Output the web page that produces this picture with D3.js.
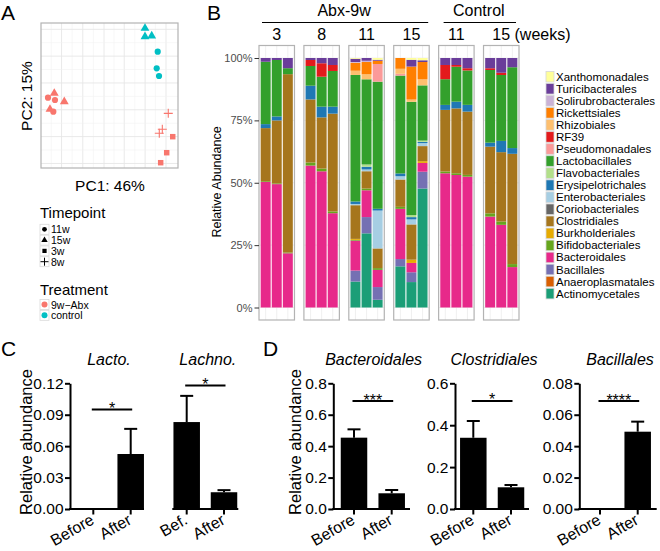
<!DOCTYPE html>
<html><head><meta charset="utf-8">
<script src="https://cdn.jsdelivr.net/npm/d3@7"></script>
<style>
body{margin:0;background:#fff}
svg{display:block;font-family:"Liberation Sans",Arial,Helvetica,sans-serif}
</style>
</head><body>
<svg id="chart" width="660" height="551"></svg>
<script>
// ================= DATA =================
// Panel A – PCA
const pcaTreatment = ["control","control","control","control","control","control",
  "9w−Abx","9w−Abx","9w−Abx","9w−Abx","9w−Abx","9w−Abx","9w−Abx","9w−Abx","9w−Abx","9w−Abx","9w−Abx","9w−Abx"];
const pcaTimepoint = ["15w","15w","15w","11w","11w","11w","15w","15w","15w","11w","11w","11w","8w","8w","8w","3w","3w","3w"];
const pc1 = [0.518,0.518,0.616, 0.704,0.689,0.723, -0.806,-0.660,-0.869, -0.898,-0.796,-0.820, 0.858,0.771,0.727, 0.923,0.835,0.747];
const pc2 = [0.927,0.811,0.821, 0.604,0.375,0.269, 0.031,-0.085,-0.190, -0.030,-0.062,-0.223, -0.246,-0.466,-0.521, -0.568,-0.789,-0.927];
const timepointLevels = ["11w","15w","3w","8w"];
const treatmentLevels = ["9w−Abx","control"];

// Panel B – stacked relative abundance (18 samples: Abx 3,8,11,15 ; Control 11,15 ; 3 mice each)
const groupLabels = ["3","8","11","15","11","15"];
const orders = ["Xanthomonadales","Turicibacterales","Solirubrobacterales","Rickettsiales","Rhizobiales","RF39",
  "Pseudomonadales","Lactobacillales","Flavobacteriales","Erysipelotrichales","Enterobacteriales","Coriobacteriales",
  "Clostridiales","Burkholderiales","Bifidobacteriales","Bacteroidales","Bacillales","Anaeroplasmatales","Actinomycetales"];
const Xanthomonadales     = [0,0,0, 0,0,0, 0.3,0,0.7, 0,0.7,0.9, 0,0,0, 0,0,0];
const Turicibacterales    = [1.5,0.8,4.1, 0.8,2.1,2.8, 1.3,1.1,0.4, 0,2.7,0.7, 2.8,2.8,4.1, 4.1,5.9,3.7];
const Solirubrobacterales = [0,0,0, 0,0,0, 0.3,0.5,0, 0,0,0, 0,0,0, 0,0,0];
const Rickettsiales       = [0,0,0, 0,0,0, 3.2,4.9,1.3, 4.3,13.1,6.9, 0,0,0, 0,0,0];
const Rhizobiales         = [0,0,0, 0,0,0, 1.7,2.0,0, 2.0,0.9,2.4, 0,0,0, 0,0,0];
const RF39                = [0,0,0, 2.4,5.4,2.4, 0,0,0, 0,0,0, 5.7,0.7,0.9, 0.7,0.9,0];
const Pseudomonadales     = [0,0,0, 0,0,0, 0,0,7.1, 0.7,0,0, 0,0,0, 0,0,0];
const Lactobacillales     = [25.0,22.6,2.4, 7.9,12.0,14.3, 50.7,34.0,51.0, 39.0,45.0,22.0, 10.3,14.0,13.8, 29.1,26.4,32.4];
const Flavobacteriales    = [0,0,0, 0,0,0, 0,0.9,0, 0,0.8,0.5, 0,0,0, 0,0,0];
const Erysipelotrichales  = [1.6,1.6,0, 5.5,4.3,2.8, 1.0,1.1,0.7, 1.1,0.9,0.5, 2.0,2.7,2.7, 1.6,4.5,2.3];
const Enterobacteriales   = [0,0,0, 0,0,0, 0.5,0.7,15.2, 1.3,2.0,1.2, 0,0,0, 0,0,0];
const Coriobacteriales    = [0,0,0, 0,0,0, 0,0,0, 0,0,0, 0,0,0, 0,0,0];
const Clostridiales       = [21.3,25.2,71.7, 25.3,20.5,39.2, 13.5,6.9,7.9, 10.9,14.0,6.0, 24.7,26.0,25.4, 26.7,27.8,44.2];
const Burkholderiales     = [0,0,0, 0,0,0, 0.4,0,0, 0,1.3,0.7, 0,0,0, 0,0,0];
const Bifidobacteriales   = [0.3,0.3,0.3, 1.2,1.1,0.7, 0.3,0.7,0.7, 0.8,0,0, 0.7,0.7,0.7, 1.3,1.3,1.2];
const Bacteroidales       = [50.3,49.4,21.8, 56.9,54.6,37.8, 12.0,10.7,6.9, 20.0,3.7,3.5, 53.8,53.1,52.5, 36.4,33.1,16.2];
const Bacillales          = [0,0,0, 0,0,0, 4.4,6.5,5.1, 2.9,3.9,6.7, 0,0,0, 0,0,0];
const Anaeroplasmatales   = [0,0,0, 0,0,0, 0,0,0, 0,0,0, 0,0,0, 0,0,0];
const Actinomycetales     = [0,0,0, 0,0,0, 10.4,29.6,3.1, 16.4,10.1,47.4, 0,0,0, 0,0,0];
const yTicksB = [0,0.25,0.5,0.75,1];

// Panels C / D – bar charts with SEM
const cdTitles   = ["Lacto.","Lachno.","Bacteroidales","Clostridiales","Bacillales"];
const cdXLabels  = [["Before","After"],["Bef.","After"],["Before","After"],["Before","After"],["Before","After"]];
const cdBefore   = [0, 0.083, 0.454, 0.340, 0];
const cdBeforeSem= [0, 0.025, 0.053, 0.080, 0];
const cdAfter    = [0.0525, 0.016, 0.100, 0.1036, 0.0492];
const cdAfterSem = [0.024, 0.002, 0.021, 0.011, 0.0064];
const cdYMax     = [0.12, 0.12, 0.8, 0.6, 0.08];
const cdYTicks   = [[0,0.03,0.06,0.09,0.12], [], [0,0.2,0.4,0.6,0.8], [0,0.2,0.4,0.6], [0,0.02,0.04,0.06,0.08]];
const cdTickFmt  = [".2f", ".2f", ".1f", ".1f", ".2f"];
const cdStars    = ["*","*","***","*","****"];
const cdSigAt    = [0.095, 0.118, 0.687, 0.516, 0.0687];

// ================= STYLE / LAYOUT =================
const orderColors = ["#FFFF99","#6A3D9A","#CAB2D6","#FF7F00","#FDBF6F","#E31A1C","#FB9A99","#33A02C","#B2DF8A",
  "#1F78B4","#A6CEE3","#666666","#A6761D","#E6AB02","#66A61E","#E7298A","#7570B3","#D95F02","#1B9E77"];
const treatColors = ["#F8766D","#00BFC4"];

const svg = d3.select("#chart");
const letter = (t,x,y)=>svg.append("text").attr("x",x).attr("y",y).attr("font-size",21).text(t);

// ================= PANEL A =================
(function(){
  const L=41,R=178,T=23,B=168;
  const x = d3.scaleLinear().domain([-1,1]).range([L,R]);
  const y = d3.scaleLinear().domain([-1,1]).range([B,T]);
  const g = svg.append("g");
  const gx = [-0.85,-0.7,-0.545,-0.39,-0.235,-0.08,0.065,0.215,0.37,0.52,0.67,0.825];
  const gy = [0.913,0.728,0.543,0.358,0.173,-0.012,-0.197,-0.382,-0.567,-0.752,-0.937];
  g.selectAll(".gx").data(gx).join("line").attr("x1",d=>x(d)).attr("x2",d=>x(d)).attr("y1",T).attr("y2",B)
    .attr("stroke",(d,i)=>i%2?"#e6e6e6":"#f2f2f2").attr("stroke-width",(d,i)=>i%2?0.9:0.6);
  g.selectAll(".gy").data(gy).join("line").attr("y1",d=>y(d)).attr("y2",d=>y(d)).attr("x1",L).attr("x2",R)
    .attr("stroke",(d,i)=>i%2?"#f2f2f2":"#e6e6e6").attr("stroke-width",(d,i)=>i%2?0.6:0.9);
  g.append("rect").attr("x",L).attr("y",T).attr("width",R-L).attr("height",B-T).attr("fill","none").attr("stroke","#b3b3b3").attr("stroke-width",1.2);
  const shp = {"11w":d3.symbolCircle,"15w":d3.symbolTriangle,"3w":d3.symbolSquare};
  const size = {"11w":30,"15w":34,"3w":30};
  const col = t=>treatColors[treatmentLevels.indexOf(t)];
  pc1.forEach((v,i)=>{
    const tp=pcaTimepoint[i], c=col(pcaTreatment[i]);
    if(tp==="8w"){
      g.append("path").attr("transform",`translate(${x(v)},${y(pc2[i])})`).attr("d","M-4.5,0H4.5M0,-4.5V4.5")
        .attr("stroke",c).attr("stroke-width",1.1).attr("fill","none");
    } else {
      g.append("path").attr("transform",`translate(${x(v)},${y(pc2[i])})`)
        .attr("d",d3.symbol(shp[tp],size[tp])()).attr("fill",c);
    }
  });
  svg.append("text").attr("transform","translate(32,96) rotate(-90)").attr("text-anchor","middle").attr("font-size",15.5).text("PC2: 15%");
  svg.append("text").attr("x",110).attr("y",191).attr("text-anchor","middle").attr("font-size",15.5).text("PC1: 46%");
  // legends
  svg.append("text").attr("x",40).attr("y",218).attr("font-size",15).text("Timepoint");
  timepointLevels.forEach((t,i)=>{
    const cy=229.3+i*10.8;
    svg.append("rect").attr("x",40).attr("y",cy-5).attr("width",9).attr("height",10).attr("fill","#fff").attr("stroke","#d9d9d9").attr("stroke-width",0.8);
    if(t==="8w") svg.append("path").attr("transform",`translate(44.5,${cy})`).attr("d","M-4,0H4M0,-4V4").attr("stroke","#000").attr("stroke-width",1);
    else svg.append("path").attr("transform",`translate(44.5,${cy})`).attr("d",d3.symbol(shp[t],18)()).attr("fill","#000");
    svg.append("text").attr("x",51).attr("y",cy+4).attr("font-size",10.5).text(t);
  });
  svg.append("text").attr("x",40).attr("y",295).attr("font-size",15).text("Treatment");
  treatmentLevels.forEach((t,i)=>{
    const cy=304.5+i*10.8;
    svg.append("rect").attr("x",40).attr("y",cy-5).attr("width",9).attr("height",10).attr("fill","#fff").attr("stroke","#d9d9d9").attr("stroke-width",0.8);
    svg.append("circle").attr("cx",44.5).attr("cy",cy).attr("r",3).attr("fill",treatColors[i]);
    svg.append("text").attr("x",51).attr("y",cy+4).attr("font-size",10.5).text(t);
  });
  letter("A",1,20);
})();

// ================= PANEL B =================
(function(){
  const seriesByOrder = {Xanthomonadales,Turicibacterales,Solirubrobacterales,Rickettsiales,Rhizobiales,RF39,
    Pseudomonadales,Lactobacillales,Flavobacteriales,Erysipelotrichales,Enterobacteriales,Coriobacteriales,
    Clostridiales,Burkholderiales,Bifidobacteriales,Bacteroidales,Bacillales,Anaeroplasmatales,Actinomycetales};
  const nS = Bacteroidales.length;
  const rows = d3.range(nS).map(s=>{
    const r={group:Math.floor(s/3),rep:s%3};
    const tot=d3.sum(orders,k=>seriesByOrder[k][s]);
    orders.forEach(k=>r[k]=seriesByOrder[k][s]/tot);
    return r;
  });
  const stackKeys = orders.slice().reverse();
  const stacked = d3.stack().keys(stackKeys)(rows);
  const color = d3.scaleOrdinal().domain(orders).range(orderColors);
  const xG = d3.scaleBand().domain(d3.range(groupLabels.length)).range([259,519]).paddingInner(0.21);
  const xB = d3.scaleBand().domain([0,1,2]).range([0,xG.bandwidth()]).paddingInner(0.1).paddingOuter(0.15);
  const y = d3.scaleLinear().domain([0,1]).range([307.5,58]);
  const pTop=y(1)-12.5, pBot=y(0)+12.5;
  const g=svg.append("g");
  groupLabels.forEach((lab,gi)=>{
    const gx=xG(gi);
    [0,1,2].forEach(r=>g.append("line").attr("x1",gx+xB(r)+xB.bandwidth()/2).attr("x2",gx+xB(r)+xB.bandwidth()/2)
      .attr("y1",pTop).attr("y2",pBot).attr("stroke","#ececec").attr("stroke-width",0.8));
    yTicksB.forEach(t=>g.append("line").attr("x1",gx).attr("x2",gx+xG.bandwidth()).attr("y1",y(t)).attr("y2",y(t))
      .attr("stroke","#ececec").attr("stroke-width",0.8));
  });
  stacked.forEach(layer=>{
    g.selectAll(null).data(layer).join("rect")
      .attr("x",d=>xG(d.data.group)+xB(d.data.rep))
      .attr("width",xB.bandwidth())
      .attr("y",d=>y(d[1])).attr("height",d=>Math.max(0,y(d[0])-y(d[1])))
      .attr("fill",color(layer.key));
  });
  groupLabels.forEach((lab,gi)=>{
    g.append("rect").attr("x",xG(gi)).attr("y",pTop).attr("width",xG.bandwidth()).attr("height",pBot-pTop)
      .attr("fill","none").attr("stroke","#b3b3b3").attr("stroke-width",1.2);
    const cx=xG(gi)+xG.bandwidth()/2;
    if(gi===groupLabels.length-1){
      svg.append("text").attr("x",cx-9).attr("y",40).attr("font-size",16).text(lab+" (weeks)");
    } else {
      svg.append("text").attr("x",cx).attr("y",40).attr("text-anchor","middle").attr("font-size",16).text(lab);
    }
  });
  const ax = svg.append("g").attr("transform","translate(259,0)")
    .call(d3.axisLeft(y).tickValues(yTicksB).tickFormat(d3.format(".0%")).tickSize(4.5).tickPadding(2));
  ax.select(".domain").remove();
  ax.selectAll("line").attr("stroke","#333");
  ax.selectAll("text").attr("font-size",11).attr("fill","#4d4d4d").attr("font-family","Liberation Sans, Arial");
  svg.append("text").attr("transform","translate(221,182) rotate(-90)").attr("text-anchor","middle").attr("font-size",12.5).text("Relative Abundance");
  // headers
  svg.append("line").attr("x1",xG(0)+3).attr("x2",xG(3)+xG.bandwidth()-1).attr("y1",22.5).attr("y2",22.5).attr("stroke","#000").attr("stroke-width",1.2);
  svg.append("text").attr("x",(xG(0)+xG(3)+xG.bandwidth())/2).attr("y",16).attr("text-anchor","middle").attr("font-size",16).text("Abx-9w");
  svg.append("line").attr("x1",xG(4)+5).attr("x2",xG(5)+xG.bandwidth()-3).attr("y1",22.5).attr("y2",22.5).attr("stroke","#000").attr("stroke-width",1.2);
  svg.append("text").attr("x",(xG(4)+xG(5)+xG.bandwidth())/2).attr("y",16).attr("text-anchor","middle").attr("font-size",16).text("Control");
  // legend
  orders.forEach((o,i)=>{
    const cy=76.7+i*12.05;
    svg.append("rect").attr("x",546).attr("y",cy-5.3).attr("width",8).attr("height",10.6).attr("fill",orderColors[i])
      .attr("stroke","#d6d6d6").attr("stroke-width",0.8);
    svg.append("text").attr("x",556).attr("y",cy+4).attr("font-size",11.5).text(o);
  });
  letter("B",207,20);
})();

// ================= PANELS C / D =================
const cdLayout = [
  {x0:70,   c1:93.3, c2:130.7, x1:144,   axis:true},
  {x0:173.3,c1:186.7,c2:224,   x1:238.3, axis:false},
  {x0:333.3,c1:354,  c2:391.7, x1:410,   axis:true},
  {x0:455,  c1:473.3,c2:511,   x1:529,   axis:true},
  {x0:579.3,c1:600,  c2:637.7, x1:656.7, axis:true}];
cdTitles.forEach((title,i)=>{
  const lay=cdLayout[i];
  const y=d3.scaleLinear().domain([0,cdYMax[i]]).range([509,383.3]);
  const x=d3.scalePoint().domain(cdXLabels[i]).range([lay.c1,lay.c2]);
  const g=svg.append("g");
  const vals=[cdBefore[i],cdAfter[i]], sems=[cdBeforeSem[i],cdAfterSem[i]];
  const bw=26.5;
  cdXLabels[i].forEach((lab,j)=>{
    const cx=x(lab);
    if(vals[j]>0){
      g.append("rect").attr("x",cx-bw/2).attr("y",y(vals[j])).attr("width",bw).attr("height",y(0)-y(vals[j])).attr("fill","#000");
      g.append("line").attr("x1",cx).attr("x2",cx).attr("y1",y(vals[j])).attr("y2",y(vals[j]+sems[j])).attr("stroke","#000").attr("stroke-width",2);
      g.append("line").attr("x1",cx-6.5).attr("x2",cx+6.5).attr("y1",y(vals[j]+sems[j])).attr("y2",y(vals[j]+sems[j])).attr("stroke","#000").attr("stroke-width",2);
    }
    g.append("line").attr("x1",cx).attr("x2",cx).attr("y1",509).attr("y2",514.5).attr("stroke","#000").attr("stroke-width",2);
    g.append("text").attr("transform",`translate(${cx+2},523) rotate(-30)`).attr("text-anchor","end").attr("font-size",16).text(lab);
  });
  g.append("line").attr("x1",lay.x0-1).attr("x2",lay.x1).attr("y1",509).attr("y2",509).attr("stroke","#000").attr("stroke-width",2);
  if(lay.axis){
    const ax=g.append("g").attr("transform",`translate(${lay.x0},0)`)
      .call(d3.axisLeft(y).tickValues(cdYTicks[i]).tickFormat(d3.format(cdTickFmt[i])).tickSize(5).tickSizeOuter(0).tickPadding(1.5));
    ax.select(".domain").attr("stroke-width",2);
    ax.selectAll(".tick line").attr("stroke-width",2);
    ax.selectAll("text").attr("font-size",15.5).attr("fill","#000").attr("font-family","Liberation Sans, Arial");
  }
  const sy=y(cdSigAt[i]);
  g.append("line").attr("x1",lay.c1-1.5).attr("x2",lay.c2+1.5).attr("y1",sy).attr("y2",sy).attr("stroke","#000").attr("stroke-width",2);
  g.append("text").attr("x",(lay.c1+lay.c2)/2).attr("y",sy+4.5).attr("text-anchor","middle").attr("font-size",16).text(cdStars[i]);
  g.append("text").attr("x",(lay.x0+lay.x1)/2+2).attr("y",365).attr("text-anchor","middle").attr("font-size",16).attr("font-style","italic").text(title);
});
svg.append("text").attr("transform","translate(32,442) rotate(-90)").attr("text-anchor","middle").attr("font-size",16.5).text("Relative abundance");
svg.append("text").attr("transform","translate(301,442) rotate(-90)").attr("text-anchor","middle").attr("font-size",16.5).text("Relative abundance");
letter("C",1,356);
letter("D",263,356);
</script>
</body></html>
